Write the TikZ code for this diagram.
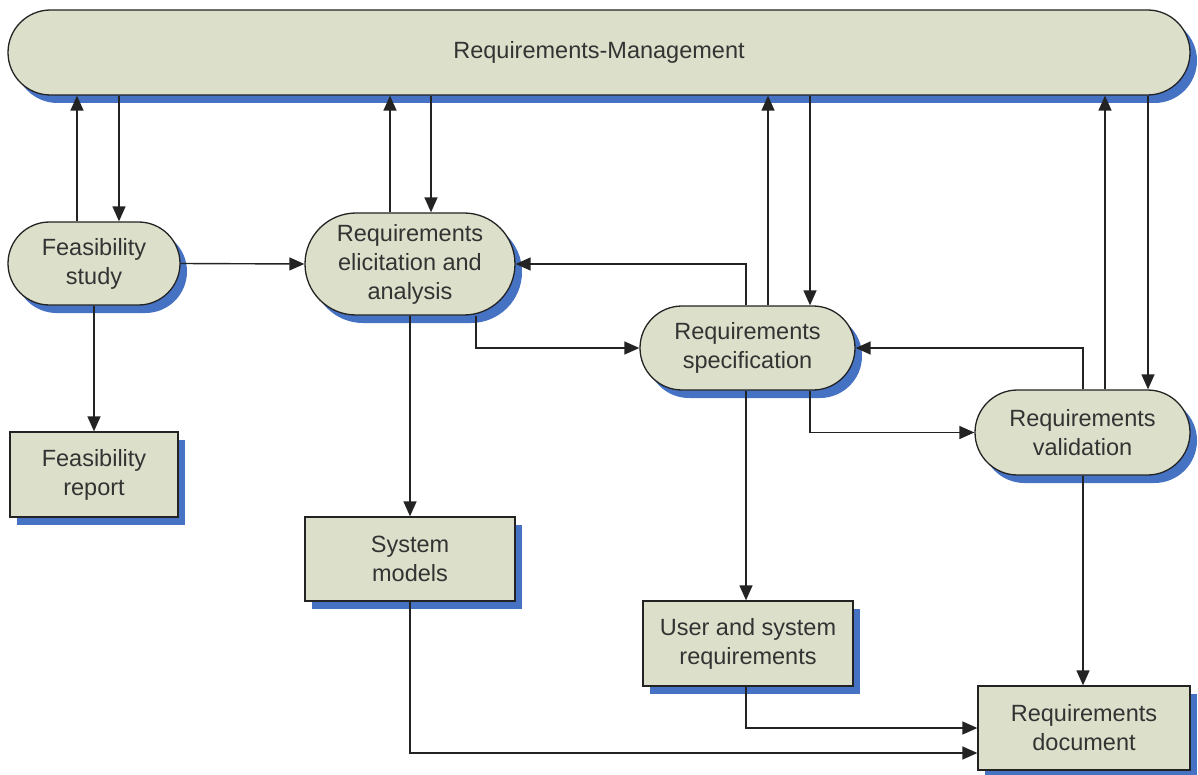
\documentclass[tikz,border=0pt]{standalone}
\usepackage{fontspec}
\setmainfont{Liberation Sans}
\usetikzlibrary{shadows,arrows.meta}
\definecolor{boxfill}{RGB}{220,224,202}
\definecolor{shadowblue}{RGB}{70,114,196}
\definecolor{linecol}{RGB}{35,35,35}
\begin{document}
\begin{tikzpicture}[x=1pt,y=-1pt,
  base/.style={draw=linecol, line width=1.3pt, fill=boxfill, text=black!80,
    font=\fontsize{23.5}{29}\selectfont, align=center, inner sep=0pt,
    drop shadow={shadow xshift=7pt, shadow yshift=-8pt, fill=shadowblue, opacity=1}},
  conn/.style={draw=linecol, line width=1.4pt, -{Triangle[length=15pt,width=13pt]}},
]
\useasboundingbox (0,0) rectangle (1198,775);

\node[base, rounded corners=42.5pt, minimum width=1182pt, minimum height=85pt] (rm) at (599,52.5) {Requirements-Management};
\node[base, rounded corners=41.5pt, minimum width=172pt, minimum height=83pt] (fs) at (94,263.5) {Feasibility\\study};
\node[base, rounded corners=51pt, minimum width=210pt, minimum height=102pt] (re) at (410,264) {Requirements\\elicitation and\\analysis};
\node[base, rounded corners=42pt, minimum width=215pt, minimum height=84pt] (rs) at (747.5,348) {Requirements\\specification};
\node[base, rounded corners=42.5pt, minimum width=215pt, minimum height=85pt] (rv) at (1082.5,432.5) {Requirements\\validation};
\node[base, minimum width=168pt, minimum height=85pt] (fr) at (94,474.5) {Feasibility\\report};
\node[base, minimum width=210pt, minimum height=84pt] (sm) at (410,559) {System\\models};
\node[base, minimum width=210pt, minimum height=85pt] (usr) at (748,643.5) {User and system\\requirements};
\node[base, minimum width=212pt, minimum height=84pt] (rd) at (1084,728) {Requirements\\document};

\coordinate (c77) at (77,0);
\coordinate (c119) at (119,0);
\coordinate (c390) at (390,0);
\coordinate (c431) at (431,0);
\coordinate (c476) at (476,0);
\coordinate (c746) at (746,0);
\coordinate (c768) at (768,0);
\coordinate (c810) at (810,0);
\coordinate (c1083) at (1083,0);
\coordinate (c1105) at (1105,0);
\coordinate (c1148) at (1148,0);

\draw[conn] (fs.north -| c77) -- (rm.south -| c77);
\draw[conn] (rm.south -| c119) -- (fs.north -| c119);
\draw[conn] (fs.east) -- (re.west);
\draw[conn] (fs.south) -- (fr.north);
\draw[conn] (re.north -| c390) -- (rm.south -| c390);
\draw[conn] (rm.south -| c431) -- (re.north -| c431);
\draw[conn] (re.south) -- (sm.north);
\draw[conn] (re.south -| c476) |- (rs.west);
\draw[conn] (rs.north -| c746) |- (re.east);
\draw[conn] (rs.north -| c768) -- (rm.south -| c768);
\draw[conn] (rm.south -| c810) -- (rs.north -| c810);
\draw[conn] (rs.south -| c810) |- (rv.west);
\draw[conn] (rv.north -| c1083) |- (rs.east);
\draw[conn] (rv.north -| c1105) -- (rm.south -| c1105);
\draw[conn] (rm.south -| c1148) -- (rv.north -| c1148);
\draw[conn] (rs.south -| c746) -- (usr.north -| c746);
\draw[conn] (rv.south -| c1083) -- (rd.north -| c1083);
\draw[conn] (usr.south -| c746) |- (rd.west);
\draw[conn] (sm.south) |- ([yshift=-25pt]rd.west);
\end{tikzpicture}
\end{document}
